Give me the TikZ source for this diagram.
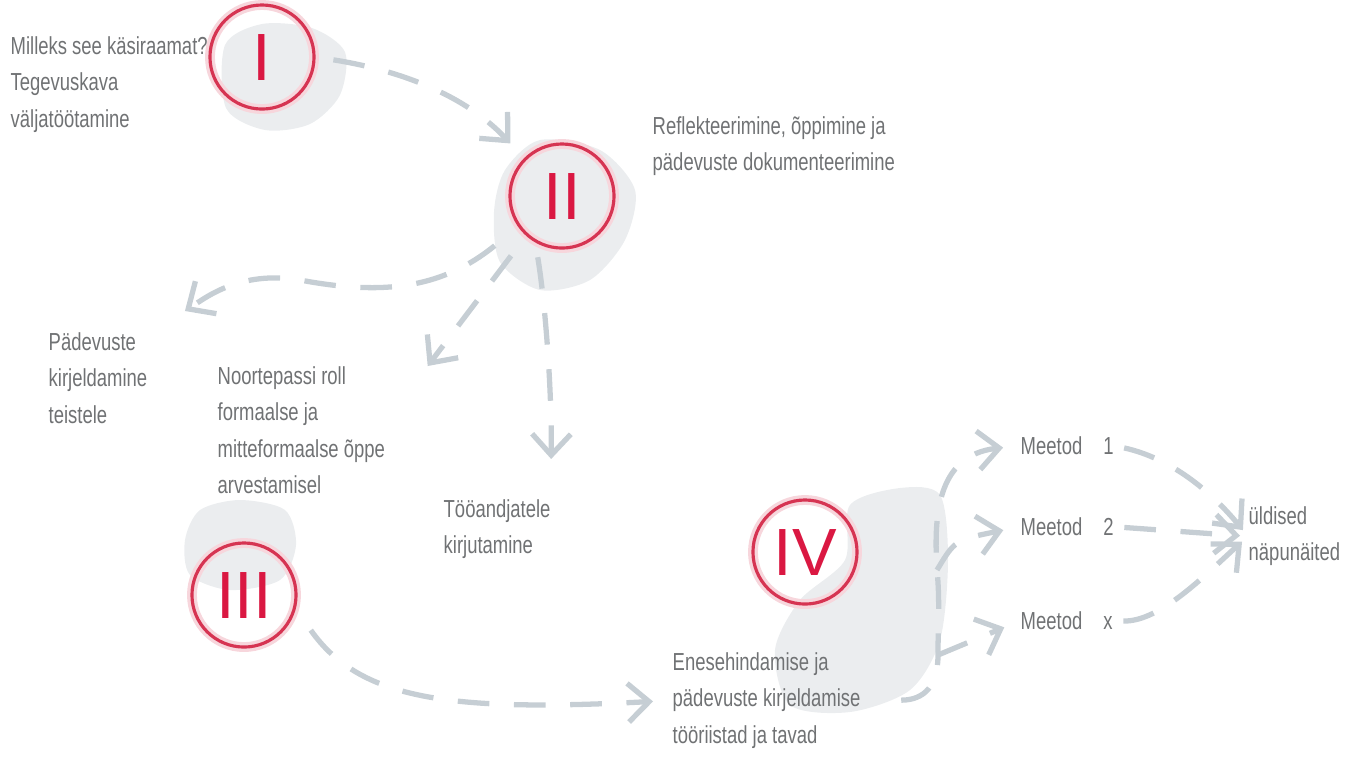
\documentclass[tikz,border=0pt]{standalone}
\usepackage{fontspec}
\newfontfamily\labelfont{Liberation Sans}[FakeStretch=0.75]
\newfontfamily\numfont{Liberation Sans}
\usetikzlibrary{arrows.meta}
\definecolor{ringred}{RGB}{214,52,82}
\definecolor{numred}{RGB}{218,24,66}
\definecolor{txtgray}{RGB}{112,114,116}
\definecolor{arrowgray}{RGB}{198,206,212}
\definecolor{blobgray}{RGB}{235,237,239}

\begin{document}
\begin{tikzpicture}[x=0.01cm,y=-0.01cm,
	ring/.style={circle,draw=ringred,line width=0.9pt,minimum size=1.04cm,inner sep=0pt,text=numred,font=\numfont\fontsize{19}{19}\selectfont,preaction={draw=ringred!20,line width=2.8pt}},
	lbl/.style={anchor=north west,inner sep=0pt,align=left,text=txtgray,font=\labelfont\fontsize{7}{10.3}\selectfont},
	flow/.style={draw=arrowgray,line width=1.5pt,dash pattern=on 9pt off 7pt,-{Straight Barb[length=6pt,width=11pt]}},
	blob/.style={fill=blobgray,draw=none}]
	\useasboundingbox (0,0) rectangle (1351,756);

	\fill[blob] plot[smooth cycle] coordinates {(225,45) (262,24) (312,28) (345,52) (340,95) (310,124) (265,130) (226,108)};
	\fill[blob] plot[smooth cycle] coordinates {(505,170) (540,140) (600,150) (635,190) (625,240) (590,280) (540,290) (500,262) (494,212)};
	\fill[blob] plot[smooth cycle] coordinates {(185,540) (200,510) (240,500) (285,510) (296,545) (280,580) (230,590) (190,575)};
	\fill[blob] plot[smooth cycle] coordinates {(850,505) (900,488) (940,495) (948,560) (940,640) (910,690) (850,712) (790,705) (775,650) (800,600) (845,560)};

	\node[ring] (c1) at (262,57) {I};
	\node[ring] (c2) at (562,196) {II};
	\node[ring] (c3) at (244,595) {III};
	\node[ring] (c4) at (805,552) {IV};

	\node[lbl] (t1) at (10,36) {Milleks see käsiraamat?\\Tegevuskava\\väljatöötamine};
	\node[lbl] (t2) at (652,116) {Reflekteerimine, õppimine ja\\pädevuste dokumenteerimine};
	\node[lbl] (t3) at (48,332) {Pädevuste\\kirjeldamine\\teistele};
	\node[lbl] (t4) at (217,366) {Noortepassi roll\\formaalse ja\\mitteformaalse õppe\\arvestamisel};
	\node[lbl] (t5) at (443,499) {Tööandjatele\\kirjutamine};
	\node[lbl] (t6) at (672,652) {Enesehindamise ja\\pädevuste kirjeldamise\\tööriistad ja tavad};
	\node[lbl] (m1) at (1020,436) {Meetod\hspace{6pt}1};
	\node[lbl] (m2) at (1020,517) {Meetod\hspace{6pt}2};
	\node[lbl] (mx) at (1020,611) {Meetod\hspace{6pt}x};
	\node[lbl] (ud) at (1248,506) {üldised\\näpunäited};

	\draw[flow,shorten <=0.18cm,shorten >=0.2cm] (c1.east) .. controls (410,72) and (470,100) .. (c2.north west);
	\draw[flow,shorten <=0.3cm] (c2.215) .. controls (440,290) and (380,295) .. (300,280) .. controls (240,270) and (205,298) .. ([xshift=0.37cm,yshift=0.21cm]t3.north east);
	\draw[flow,shorten <=0.25cm] (c2.228) -- ([xshift=0.42cm]t4.north east);
	\draw[flow,shorten <=0.15cm] (c2.240) .. controls (545,300) and (552,390) .. ([yshift=0.4cm]t5.north east);
	\draw[flow,shorten <=0.26cm,shorten >=0.19cm] (c3.345) .. controls (360,700) and (450,712) .. (t6.west);

	\coordinate (jx) at (938,655);
	\coordinate (j2) at (937,570);
	\draw[flow,shorten <=0.4cm,shorten >=0.17cm] (t6.east) .. controls (925,700) and (938,685) .. (jx) .. controls (938,625) and (940,600) .. (j2) .. controls (934,520) and (935,455) .. (m1.west);
	\draw[flow,shorten >=0.17cm] (jx) -- (mx.west);
	\draw[flow,shorten >=0.17cm] (j2) .. controls (955,540) .. (m2.west);

	\draw[flow,shorten <=0.1cm,shorten >=0.08cm] (m1.east) .. controls (1170,458) and (1210,490) .. (ud.west);
	\draw[flow,shorten <=0.1cm,shorten >=0.08cm] (m2.east) -- (ud.west);
	\draw[flow,shorten <=0.1cm,shorten >=0.08cm] (mx.east) .. controls (1160,622) and (1205,575) .. (ud.west);
\end{tikzpicture}
\end{document}
